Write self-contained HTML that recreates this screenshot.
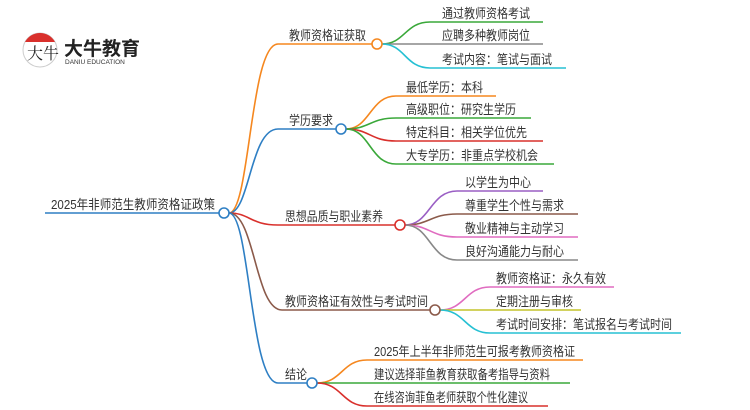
<!DOCTYPE html>
<html><head><meta charset="utf-8"><style>
html,body{margin:0;padding:0;background:#fff;}
svg{display:block;}
text{font-family:"Liberation Sans","Noto Sans CJK SC",sans-serif;fill:#333;font-size:13px;}
</style></head><body>
<svg width="750" height="410" viewBox="0 0 750 410" xmlns="http://www.w3.org/2000/svg">
<!-- logo -->
<circle cx="40" cy="50" r="17" fill="#fff" stroke="#ccc" stroke-width="1"/>
<path d="M25 42 A17 17 0 0 1 55 42 Z" fill="#d9302c"/>
<text x="27" y="59" style="font-size:16px;fill:#222;font-family:'Noto Serif CJK SC',serif">大牛</text>
<text x="64" y="55" style="font-size:19px;font-weight:bold;fill:#222">大牛教育</text>
<text x="65" y="64" style="font-size:6.5px;fill:#333">DANIU EDUCATION</text>

<g fill="none" stroke-width="1.6">
<path d="M45 213 H219" stroke="#2e7fc4"/>
<path d="M229 213 C250 213 250 44 278 44 H372" stroke="#f5871f"/>
<path d="M229 213 C250 213 250 129 278 129 H336" stroke="#2e7fc4"/>
<path d="M229 213 C250 213 250 225 278 225 H395" stroke="#d9302c"/>
<path d="M229 213 C255 213 255 310 282 310 H430" stroke="#8b5a4a"/>
<path d="M229 213 C250 213 250 383 278 383 H307" stroke="#2e7fc4"/>
<path d="M382 44 C405 44 405 22 430 22 H543" stroke="#3aa83a"/>
<path d="M382 44 H543" stroke="#888"/>
<path d="M382 44 C405 44 405 68 430 68 H566" stroke="#26c0d3"/>
<path d="M346 129 C370 129 370 96 396 96 H496" stroke="#f5871f"/>
<path d="M346 129 C370 129 370 118 396 118 H531" stroke="#3aa83a"/>
<path d="M346 129 C370 129 370 141 396 141 H543" stroke="#d9302c"/>
<path d="M346 129 C370 129 370 164 396 164 H554" stroke="#3aa83a"/>
<path d="M405 225 C430 225 430 191 457 191 H543" stroke="#9a5fc4"/>
<path d="M405 225 C430 225 430 214 457 214 H578" stroke="#8b5a4a"/>
<path d="M405 225 C430 225 430 237 457 237 H578" stroke="#e06cc0"/>
<path d="M405 225 C430 225 430 260 457 260 H578" stroke="#888"/>
<path d="M440 310 C465 310 465 287 490 287 H614" stroke="#e06cc0"/>
<path d="M440 310 H581" stroke="#c4c42a"/>
<path d="M440 310 C465 310 465 333 490 333 H681" stroke="#26c0d3"/>
<path d="M317 383 C342 383 342 360 367 360 H583" stroke="#f5871f"/>
<path d="M317 383 H570" stroke="#3aa83a"/>
<path d="M317 383 C342 383 342 406 367 406 H548" stroke="#d9302c"/>
</g>
<g fill="#fff" stroke-width="1.6">
<circle cx="224" cy="213" r="5" stroke="#2e7fc4"/>
<circle cx="377" cy="44" r="5" stroke="#f5871f"/>
<circle cx="341" cy="129" r="5" stroke="#2e7fc4"/>
<circle cx="400" cy="225" r="5" stroke="#d9302c"/>
<circle cx="435" cy="310" r="5" stroke="#8b5a4a"/>
<circle cx="312" cy="383" r="5" stroke="#2e7fc4"/>
</g>
<g lengthAdjust="spacingAndGlyphs">
<text x="51" y="209" textLength="164" lengthAdjust="spacingAndGlyphs">2025年非师范生教师资格证政策</text>
<text x="289" y="40" textLength="77" lengthAdjust="spacingAndGlyphs">教师资格证获取</text>
<text x="289" y="125" textLength="44" lengthAdjust="spacingAndGlyphs">学历要求</text>
<text x="285" y="221" textLength="98" lengthAdjust="spacingAndGlyphs">思想品质与职业素养</text>
<text x="285" y="306" textLength="143" lengthAdjust="spacingAndGlyphs">教师资格证有效性与考试时间</text>
<text x="285" y="379" textLength="22" lengthAdjust="spacingAndGlyphs">结论</text>

<text x="442" y="18" textLength="88" lengthAdjust="spacingAndGlyphs">通过教师资格考试</text>
<text x="442" y="40" textLength="88" lengthAdjust="spacingAndGlyphs">应聘多种教师岗位</text>
<text x="442" y="64" textLength="110" lengthAdjust="spacingAndGlyphs">考试内容：笔试与面试</text>

<text x="406" y="92" textLength="77" lengthAdjust="spacingAndGlyphs">最低学历：本科</text>
<text x="406" y="114" textLength="110" lengthAdjust="spacingAndGlyphs">高级职位：研究生学历</text>
<text x="406" y="137" textLength="121" lengthAdjust="spacingAndGlyphs">特定科目：相关学位优先</text>
<text x="406" y="160" textLength="132" lengthAdjust="spacingAndGlyphs">大专学历：非重点学校机会</text>

<text x="465" y="187" textLength="66" lengthAdjust="spacingAndGlyphs">以学生为中心</text>
<text x="465" y="210" textLength="99" lengthAdjust="spacingAndGlyphs">尊重学生个性与需求</text>
<text x="465" y="233" textLength="99" lengthAdjust="spacingAndGlyphs">敬业精神与主动学习</text>
<text x="465" y="256" textLength="99" lengthAdjust="spacingAndGlyphs">良好沟通能力与耐心</text>

<text x="496" y="283" textLength="110" lengthAdjust="spacingAndGlyphs">教师资格证：永久有效</text>
<text x="496" y="306" textLength="77" lengthAdjust="spacingAndGlyphs">定期注册与审核</text>
<text x="496" y="329" textLength="176" lengthAdjust="spacingAndGlyphs">考试时间安排：笔试报名与考试时间</text>

<text x="374" y="356" textLength="201" lengthAdjust="spacingAndGlyphs">2025年上半年非师范生可报考教师资格证</text>
<text x="374" y="379" textLength="176" lengthAdjust="spacingAndGlyphs">建议选择菲鱼教育获取备考指导与资料</text>
<text x="374" y="402" textLength="154" lengthAdjust="spacingAndGlyphs">在线咨询菲鱼老师获取个性化建议</text>
</g>
</svg>
</body></html>
